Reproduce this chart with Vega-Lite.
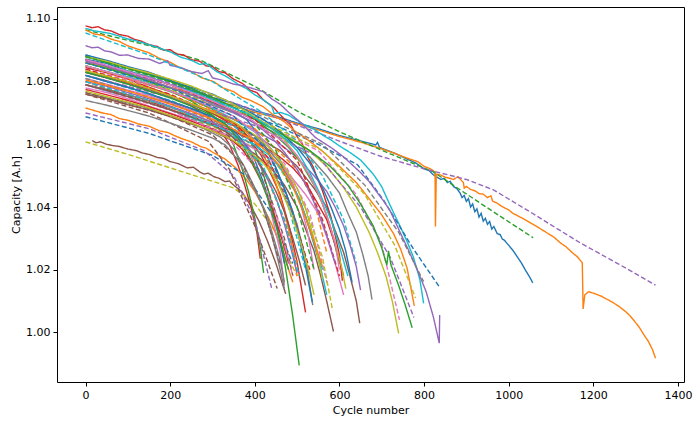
{
  "$schema": "https://vega.github.io/schema/vega-lite/v6.json",
  "width": 627,
  "height": 375,
  "autosize": "none",
  "padding": {"left": 57, "top": 7, "right": 16, "bottom": 43},
  "background": "white",
  "data": {
    "values": [
      {"run":"r00","type":"measured","cycle":0,"capacity":1.0872},{"run":"r00","type":"measured","cycle":50,"capacity":1.0858},{"run":"r00","type":"measured","cycle":100,"capacity":1.0834},{"run":"r00","type":"measured","cycle":150,"capacity":1.0815},{"run":"r00","type":"measured","cycle":200,"capacity":1.0791},{"run":"r00","type":"measured","cycle":250,"capacity":1.0772},{"run":"r00","type":"measured","cycle":300,"capacity":1.0749},{"run":"r00","type":"measured","cycle":350,"capacity":1.0731},{"run":"r00","type":"measured","cycle":400,"capacity":1.0707},{"run":"r00","type":"measured","cycle":450,"capacity":1.069},{"run":"r00","type":"measured","cycle":500,"capacity":1.0668},{"run":"r00","type":"measured","cycle":550,"capacity":1.065},{"run":"r00","type":"measured","cycle":600,"capacity":1.0628},{"run":"r00","type":"measured","cycle":650,"capacity":1.0611},{"run":"r00","type":"measured","cycle":686,"capacity":1.0598},{"run":"r00","type":"measured","cycle":690,"capacity":1.0606},{"run":"r00","type":"measured","cycle":695,"capacity":1.059},{"run":"r00","type":"measured","cycle":730,"capacity":1.0572},{"run":"r00","type":"measured","cycle":760,"capacity":1.0553},{"run":"r00","type":"measured","cycle":780,"capacity":1.0541},{"run":"r00","type":"measured","cycle":800,"capacity":1.0522},{"run":"r00","type":"measured","cycle":812,"capacity":1.0516},{"run":"r00","type":"measured","cycle":822,"capacity":1.0503},{"run":"r00","type":"measured","cycle":830,"capacity":1.0496},{"run":"r00","type":"measured","cycle":840,"capacity":1.0488},{"run":"r00","type":"measured","cycle":848,"capacity":1.0492},{"run":"r00","type":"measured","cycle":855,"capacity":1.0478},{"run":"r00","type":"measured","cycle":862,"capacity":1.0482},{"run":"r00","type":"measured","cycle":870,"capacity":1.0465},{"run":"r00","type":"measured","cycle":878,"capacity":1.0458},{"run":"r00","type":"measured","cycle":885,"capacity":1.0445},{"run":"r00","type":"measured","cycle":890,"capacity":1.043},{"run":"r00","type":"measured","cycle":895,"capacity":1.0437},{"run":"r00","type":"measured","cycle":900,"capacity":1.0418},{"run":"r00","type":"measured","cycle":905,"capacity":1.0427},{"run":"r00","type":"measured","cycle":910,"capacity":1.04},{"run":"r00","type":"measured","cycle":915,"capacity":1.041},{"run":"r00","type":"measured","cycle":920,"capacity":1.0385},{"run":"r00","type":"measured","cycle":925,"capacity":1.0394},{"run":"r00","type":"measured","cycle":930,"capacity":1.0368},{"run":"r00","type":"measured","cycle":935,"capacity":1.038},{"run":"r00","type":"measured","cycle":940,"capacity":1.0355},{"run":"r00","type":"measured","cycle":945,"capacity":1.0364},{"run":"r00","type":"measured","cycle":950,"capacity":1.0345},{"run":"r00","type":"measured","cycle":955,"capacity":1.0354},{"run":"r00","type":"measured","cycle":960,"capacity":1.033},{"run":"r00","type":"measured","cycle":965,"capacity":1.0338},{"run":"r00","type":"measured","cycle":973,"capacity":1.0315},{"run":"r00","type":"measured","cycle":980,"capacity":1.0312},{"run":"r00","type":"measured","cycle":985,"capacity":1.0298},{"run":"r00","type":"measured","cycle":990,"capacity":1.0294},{"run":"r00","type":"measured","cycle":1000,"capacity":1.0278},{"run":"r00","type":"measured","cycle":1010,"capacity":1.0262},{"run":"r00","type":"measured","cycle":1020,"capacity":1.0242},{"run":"r00","type":"measured","cycle":1030,"capacity":1.0222},{"run":"r00","type":"measured","cycle":1040,"capacity":1.0198},{"run":"r00","type":"measured","cycle":1050,"capacity":1.0176},{"run":"r00","type":"measured","cycle":1057,"capacity":1.0158},
      {"run":"r01","type":"measured","cycle":0,"capacity":1.0862},{"run":"r01","type":"measured","cycle":50,"capacity":1.0845},{"run":"r01","type":"measured","cycle":100,"capacity":1.0823},{"run":"r01","type":"measured","cycle":150,"capacity":1.0805},{"run":"r01","type":"measured","cycle":200,"capacity":1.0782},{"run":"r01","type":"measured","cycle":250,"capacity":1.0764},{"run":"r01","type":"measured","cycle":300,"capacity":1.0742},{"run":"r01","type":"measured","cycle":350,"capacity":1.0724},{"run":"r01","type":"measured","cycle":400,"capacity":1.0702},{"run":"r01","type":"measured","cycle":450,"capacity":1.0685},{"run":"r01","type":"measured","cycle":500,"capacity":1.0665},{"run":"r01","type":"measured","cycle":550,"capacity":1.0646},{"run":"r01","type":"measured","cycle":600,"capacity":1.0625},{"run":"r01","type":"measured","cycle":650,"capacity":1.0607},{"run":"r01","type":"measured","cycle":690,"capacity":1.059},{"run":"r01","type":"measured","cycle":725,"capacity":1.0574},{"run":"r01","type":"measured","cycle":760,"capacity":1.0556},{"run":"r01","type":"measured","cycle":785,"capacity":1.0545},{"run":"r01","type":"measured","cycle":800,"capacity":1.053},{"run":"r01","type":"measured","cycle":815,"capacity":1.0522},{"run":"r01","type":"measured","cycle":826,"capacity":1.0512},{"run":"r01","type":"measured","cycle":827,"capacity":1.0338},{"run":"r01","type":"measured","cycle":829,"capacity":1.0505},{"run":"r01","type":"measured","cycle":840,"capacity":1.0502},{"run":"r01","type":"measured","cycle":850,"capacity":1.0495},{"run":"r01","type":"measured","cycle":860,"capacity":1.0492},{"run":"r01","type":"measured","cycle":870,"capacity":1.0488},{"run":"r01","type":"measured","cycle":880,"capacity":1.0497},{"run":"r01","type":"measured","cycle":885,"capacity":1.049},{"run":"r01","type":"measured","cycle":893,"capacity":1.0478},{"run":"r01","type":"measured","cycle":895,"capacity":1.046},{"run":"r01","type":"measured","cycle":900,"capacity":1.0466},{"run":"r01","type":"measured","cycle":910,"capacity":1.0456},{"run":"r01","type":"measured","cycle":920,"capacity":1.0452},{"run":"r01","type":"measured","cycle":930,"capacity":1.0443},{"run":"r01","type":"measured","cycle":940,"capacity":1.0441},{"run":"r01","type":"measured","cycle":950,"capacity":1.043},{"run":"r01","type":"measured","cycle":958,"capacity":1.0436},{"run":"r01","type":"measured","cycle":962,"capacity":1.0419},{"run":"r01","type":"measured","cycle":973,"capacity":1.0412},{"run":"r01","type":"measured","cycle":985,"capacity":1.0401},{"run":"r01","type":"measured","cycle":1000,"capacity":1.0391},{"run":"r01","type":"measured","cycle":1010,"capacity":1.038},{"run":"r01","type":"measured","cycle":1030,"capacity":1.0366},{"run":"r01","type":"measured","cycle":1052,"capacity":1.0349},{"run":"r01","type":"measured","cycle":1070,"capacity":1.0335},{"run":"r01","type":"measured","cycle":1090,"capacity":1.0318},{"run":"r01","type":"measured","cycle":1105,"capacity":1.0306},{"run":"r01","type":"measured","cycle":1123,"capacity":1.0285},{"run":"r01","type":"measured","cycle":1135,"capacity":1.0274},{"run":"r01","type":"measured","cycle":1150,"capacity":1.0255},{"run":"r01","type":"measured","cycle":1162,"capacity":1.0242},{"run":"r01","type":"measured","cycle":1174,"capacity":1.0222},{"run":"r01","type":"measured","cycle":1176,"capacity":1.0075},{"run":"r01","type":"measured","cycle":1180,"capacity":1.012},{"run":"r01","type":"measured","cycle":1189,"capacity":1.013},{"run":"r01","type":"measured","cycle":1205,"capacity":1.0123},{"run":"r01","type":"measured","cycle":1220,"capacity":1.0115},{"run":"r01","type":"measured","cycle":1235,"capacity":1.0104},{"run":"r01","type":"measured","cycle":1248,"capacity":1.0094},{"run":"r01","type":"measured","cycle":1262,"capacity":1.0082},{"run":"r01","type":"measured","cycle":1275,"capacity":1.0068},{"run":"r01","type":"measured","cycle":1285,"capacity":1.0056},{"run":"r01","type":"measured","cycle":1295,"capacity":1.004},{"run":"r01","type":"measured","cycle":1308,"capacity":1.0018},{"run":"r01","type":"measured","cycle":1320,"capacity":0.9992},{"run":"r01","type":"measured","cycle":1330,"capacity":0.9972},{"run":"r01","type":"measured","cycle":1340,"capacity":0.9945},{"run":"r01","type":"measured","cycle":1347,"capacity":0.9918},
      {"run":"r02","type":"predicted","cycle":0,"capacity":1.0965},{"run":"r02","type":"predicted","cycle":150,"capacity":1.0915},{"run":"r02","type":"predicted","cycle":272,"capacity":1.0868},{"run":"r02","type":"predicted","cycle":400,"capacity":1.0785},{"run":"r02","type":"predicted","cycle":508,"capacity":1.07},{"run":"r02","type":"predicted","cycle":600,"capacity":1.064},{"run":"r02","type":"predicted","cycle":697,"capacity":1.0583},{"run":"r02","type":"predicted","cycle":822,"capacity":1.0512},{"run":"r02","type":"predicted","cycle":893,"capacity":1.0448},{"run":"r02","type":"predicted","cycle":975,"capacity":1.0375},{"run":"r02","type":"predicted","cycle":1058,"capacity":1.0302},
      {"run":"r03","type":"measured","cycle":0,"capacity":1.0978},{"run":"r03","type":"measured","cycle":15,"capacity":1.0972},{"run":"r03","type":"measured","cycle":30,"capacity":1.0975},{"run":"r03","type":"measured","cycle":45,"capacity":1.0965},{"run":"r03","type":"measured","cycle":60,"capacity":1.0962},{"run":"r03","type":"measured","cycle":80,"capacity":1.095},{"run":"r03","type":"measured","cycle":100,"capacity":1.0945},{"run":"r03","type":"measured","cycle":115,"capacity":1.0935},{"run":"r03","type":"measured","cycle":130,"capacity":1.093},{"run":"r03","type":"measured","cycle":150,"capacity":1.0918},{"run":"r03","type":"measured","cycle":170,"capacity":1.0912},{"run":"r03","type":"measured","cycle":185,"capacity":1.09},{"run":"r03","type":"measured","cycle":200,"capacity":1.0902},{"run":"r03","type":"measured","cycle":215,"capacity":1.0888},{"run":"r03","type":"measured","cycle":232,"capacity":1.0885},{"run":"r03","type":"measured","cycle":250,"capacity":1.087},{"run":"r03","type":"measured","cycle":270,"capacity":1.0865},{"run":"r03","type":"measured","cycle":285,"capacity":1.085},{"run":"r03","type":"measured","cycle":300,"capacity":1.0848},{"run":"r03","type":"measured","cycle":315,"capacity":1.0832},{"run":"r03","type":"measured","cycle":330,"capacity":1.0828},{"run":"r03","type":"measured","cycle":350,"capacity":1.0808},{"run":"r03","type":"measured","cycle":370,"capacity":1.0795},{"run":"r03","type":"measured","cycle":390,"capacity":1.0772},{"run":"r03","type":"measured","cycle":405,"capacity":1.0765},{"run":"r03","type":"measured","cycle":420,"capacity":1.0742},{"run":"r03","type":"measured","cycle":444,"capacity":1.0718},{"run":"r03","type":"measured","cycle":470,"capacity":1.068},{"run":"r03","type":"measured","cycle":485,"capacity":1.0662},{"run":"r03","type":"measured","cycle":500,"capacity":1.0625},{"run":"r03","type":"measured","cycle":512,"capacity":1.0602},{"run":"r03","type":"measured","cycle":525,"capacity":1.056},{"run":"r03","type":"measured","cycle":538,"capacity":1.0528},{"run":"r03","type":"measured","cycle":550,"capacity":1.0485},{"run":"r03","type":"measured","cycle":560,"capacity":1.0452},{"run":"r03","type":"measured","cycle":570,"capacity":1.041},{"run":"r03","type":"measured","cycle":580,"capacity":1.0368},{"run":"r03","type":"measured","cycle":590,"capacity":1.031},{"run":"r03","type":"measured","cycle":600,"capacity":1.0248},{"run":"r03","type":"measured","cycle":607,"capacity":1.0165},
      {"run":"r04","type":"predicted","cycle":0,"capacity":1.087},{"run":"r04","type":"predicted","cycle":150,"capacity":1.0815},{"run":"r04","type":"predicted","cycle":300,"capacity":1.0755},{"run":"r04","type":"predicted","cycle":420,"capacity":1.07},{"run":"r04","type":"predicted","cycle":543,"capacity":1.064},{"run":"r04","type":"predicted","cycle":620,"capacity":1.06},{"run":"r04","type":"predicted","cycle":697,"capacity":1.0562},{"run":"r04","type":"predicted","cycle":800,"capacity":1.0522},{"run":"r04","type":"predicted","cycle":900,"capacity":1.0488},{"run":"r04","type":"predicted","cycle":964,"capacity":1.0455},{"run":"r04","type":"predicted","cycle":1050,"capacity":1.0385},{"run":"r04","type":"predicted","cycle":1170,"capacity":1.0285},{"run":"r04","type":"predicted","cycle":1260,"capacity":1.0218},{"run":"r04","type":"predicted","cycle":1347,"capacity":1.0151},
      {"run":"r05","type":"measured","cycle":16,"capacity":1.0612},{"run":"r05","type":"measured","cycle":25,"capacity":1.0605},{"run":"r05","type":"measured","cycle":35,"capacity":1.0608},{"run":"r05","type":"measured","cycle":50,"capacity":1.06},{"run":"r05","type":"measured","cycle":65,"capacity":1.0596},{"run":"r05","type":"measured","cycle":80,"capacity":1.0593},{"run":"r05","type":"measured","cycle":100,"capacity":1.0585},{"run":"r05","type":"measured","cycle":120,"capacity":1.058},{"run":"r05","type":"measured","cycle":135,"capacity":1.0572},{"run":"r05","type":"measured","cycle":150,"capacity":1.0568},{"run":"r05","type":"measured","cycle":170,"capacity":1.0558},{"run":"r05","type":"measured","cycle":185,"capacity":1.0555},{"run":"r05","type":"measured","cycle":200,"capacity":1.0545},{"run":"r05","type":"measured","cycle":220,"capacity":1.0538},{"run":"r05","type":"measured","cycle":240,"capacity":1.0525},{"run":"r05","type":"measured","cycle":255,"capacity":1.0527},{"run":"r05","type":"measured","cycle":270,"capacity":1.0512},{"run":"r05","type":"measured","cycle":280,"capacity":1.0505},{"run":"r05","type":"measured","cycle":290,"capacity":1.0508},{"run":"r05","type":"measured","cycle":303,"capacity":1.0497},{"run":"r05","type":"measured","cycle":315,"capacity":1.0492},{"run":"r05","type":"measured","cycle":330,"capacity":1.0481},{"run":"r05","type":"measured","cycle":340,"capacity":1.0483},{"run":"r05","type":"measured","cycle":350,"capacity":1.047},{"run":"r05","type":"measured","cycle":370,"capacity":1.0448},{"run":"r05","type":"measured","cycle":390,"capacity":1.0405},{"run":"r05","type":"measured","cycle":410,"capacity":1.0355},{"run":"r05","type":"measured","cycle":430,"capacity":1.0292},{"run":"r05","type":"measured","cycle":450,"capacity":1.022},{"run":"r05","type":"measured","cycle":473,"capacity":1.0123},
      {"run":"r06","type":"predicted","cycle":0,"capacity":1.082},{"run":"r06","type":"predicted","cycle":200,"capacity":1.074},{"run":"r06","type":"predicted","cycle":380,"capacity":1.064},{"run":"r06","type":"predicted","cycle":470,"capacity":1.054},{"run":"r06","type":"predicted","cycle":530,"capacity":1.038},{"run":"r06","type":"predicted","cycle":571,"capacity":1.0157},
      {"run":"r07","type":"measured","cycle":0,"capacity":1.083},{"run":"r07","type":"measured","cycle":50,"capacity":1.0815},{"run":"r07","type":"measured","cycle":100,"capacity":1.0795},{"run":"r07","type":"measured","cycle":150,"capacity":1.0777},{"run":"r07","type":"measured","cycle":200,"capacity":1.0755},{"run":"r07","type":"measured","cycle":250,"capacity":1.0728},{"run":"r07","type":"measured","cycle":300,"capacity":1.0697},{"run":"r07","type":"measured","cycle":350,"capacity":1.0668},{"run":"r07","type":"measured","cycle":400,"capacity":1.0628},{"run":"r07","type":"measured","cycle":430,"capacity":1.0585},{"run":"r07","type":"measured","cycle":450,"capacity":1.0525},{"run":"r07","type":"measured","cycle":475,"capacity":1.044},{"run":"r07","type":"measured","cycle":500,"capacity":1.0345},{"run":"r07","type":"measured","cycle":520,"capacity":1.0235},{"run":"r07","type":"measured","cycle":537,"capacity":1.0087},
      {"run":"r08","type":"predicted","cycle":0,"capacity":1.0608},{"run":"r08","type":"predicted","cycle":100,"capacity":1.0568},{"run":"r08","type":"predicted","cycle":200,"capacity":1.0525},{"run":"r08","type":"predicted","cycle":350,"capacity":1.0461},{"run":"r08","type":"predicted","cycle":400,"capacity":1.041},{"run":"r08","type":"predicted","cycle":450,"capacity":1.032},{"run":"r08","type":"predicted","cycle":500,"capacity":1.018},
      {"run":"r09","type":"measured","cycle":0,"capacity":1.097},{"run":"r09","type":"measured","cycle":20,"capacity":1.0962},{"run":"r09","type":"measured","cycle":40,"capacity":1.0958},{"run":"r09","type":"measured","cycle":60,"capacity":1.0953},{"run":"r09","type":"measured","cycle":80,"capacity":1.0945},{"run":"r09","type":"measured","cycle":100,"capacity":1.0936},{"run":"r09","type":"measured","cycle":120,"capacity":1.093},{"run":"r09","type":"measured","cycle":150,"capacity":1.0918},{"run":"r09","type":"measured","cycle":175,"capacity":1.0907},{"run":"r09","type":"measured","cycle":200,"capacity":1.0895},{"run":"r09","type":"measured","cycle":225,"capacity":1.0878},{"run":"r09","type":"measured","cycle":250,"capacity":1.0868},{"run":"r09","type":"measured","cycle":270,"capacity":1.0855},{"run":"r09","type":"measured","cycle":285,"capacity":1.0858},{"run":"r09","type":"measured","cycle":296,"capacity":1.0846},{"run":"r09","type":"measured","cycle":310,"capacity":1.0832},{"run":"r09","type":"measured","cycle":330,"capacity":1.0818},{"run":"r09","type":"measured","cycle":345,"capacity":1.0806},{"run":"r09","type":"measured","cycle":360,"capacity":1.0792},{"run":"r09","type":"measured","cycle":380,"capacity":1.0778},{"run":"r09","type":"measured","cycle":400,"capacity":1.0758},{"run":"r09","type":"measured","cycle":420,"capacity":1.0742},{"run":"r09","type":"measured","cycle":440,"capacity":1.0722},{"run":"r09","type":"measured","cycle":446,"capacity":1.0698},{"run":"r09","type":"measured","cycle":460,"capacity":1.0702},{"run":"r09","type":"measured","cycle":480,"capacity":1.0693},{"run":"r09","type":"measured","cycle":500,"capacity":1.0676},{"run":"r09","type":"measured","cycle":520,"capacity":1.066},{"run":"r09","type":"measured","cycle":540,"capacity":1.0648},{"run":"r09","type":"measured","cycle":560,"capacity":1.063},{"run":"r09","type":"measured","cycle":580,"capacity":1.0614},{"run":"r09","type":"measured","cycle":600,"capacity":1.0595},{"run":"r09","type":"measured","cycle":625,"capacity":1.0574},{"run":"r09","type":"measured","cycle":650,"capacity":1.055},{"run":"r09","type":"measured","cycle":665,"capacity":1.0528},{"run":"r09","type":"measured","cycle":680,"capacity":1.0505},{"run":"r09","type":"measured","cycle":700,"capacity":1.0465},{"run":"r09","type":"measured","cycle":720,"capacity":1.0405},{"run":"r09","type":"measured","cycle":744,"capacity":1.0337},{"run":"r09","type":"measured","cycle":760,"capacity":1.029},{"run":"r09","type":"measured","cycle":775,"capacity":1.024},{"run":"r09","type":"measured","cycle":790,"capacity":1.017},{"run":"r09","type":"measured","cycle":799,"capacity":1.0093},
      {"run":"r10","type":"predicted","cycle":0,"capacity":1.0885},{"run":"r10","type":"predicted","cycle":200,"capacity":1.08},{"run":"r10","type":"predicted","cycle":400,"capacity":1.069},{"run":"r10","type":"predicted","cycle":550,"capacity":1.06},{"run":"r10","type":"predicted","cycle":643,"capacity":1.0535},{"run":"r10","type":"predicted","cycle":704,"capacity":1.0423},{"run":"r10","type":"predicted","cycle":776,"capacity":1.0264},{"run":"r10","type":"predicted","cycle":838,"capacity":1.0142},
      {"run":"r11","type":"measured","cycle":0,"capacity":1.0965},{"run":"r11","type":"measured","cycle":20,"capacity":1.0952},{"run":"r11","type":"measured","cycle":40,"capacity":1.0948},{"run":"r11","type":"measured","cycle":60,"capacity":1.0936},{"run":"r11","type":"measured","cycle":80,"capacity":1.0928},{"run":"r11","type":"measured","cycle":100,"capacity":1.0914},{"run":"r11","type":"measured","cycle":120,"capacity":1.0905},{"run":"r11","type":"measured","cycle":150,"capacity":1.0892},{"run":"r11","type":"measured","cycle":175,"capacity":1.0874},{"run":"r11","type":"measured","cycle":200,"capacity":1.0862},{"run":"r11","type":"measured","cycle":225,"capacity":1.0843},{"run":"r11","type":"measured","cycle":250,"capacity":1.0832},{"run":"r11","type":"measured","cycle":275,"capacity":1.0812},{"run":"r11","type":"measured","cycle":303,"capacity":1.08},{"run":"r11","type":"measured","cycle":325,"capacity":1.078},{"run":"r11","type":"measured","cycle":350,"capacity":1.0768},{"run":"r11","type":"measured","cycle":370,"capacity":1.075},{"run":"r11","type":"measured","cycle":390,"capacity":1.074},{"run":"r11","type":"measured","cycle":420,"capacity":1.072},{"run":"r11","type":"measured","cycle":445,"capacity":1.0693},{"run":"r11","type":"measured","cycle":470,"capacity":1.0672},{"run":"r11","type":"measured","cycle":495,"capacity":1.0642},{"run":"r11","type":"measured","cycle":520,"capacity":1.062},{"run":"r11","type":"measured","cycle":560,"capacity":1.0578},{"run":"r11","type":"measured","cycle":600,"capacity":1.053},{"run":"r11","type":"measured","cycle":640,"capacity":1.0478},{"run":"r11","type":"measured","cycle":666,"capacity":1.0434},{"run":"r11","type":"measured","cycle":700,"capacity":1.0375},{"run":"r11","type":"measured","cycle":728,"capacity":1.0315},{"run":"r11","type":"measured","cycle":745,"capacity":1.0265},{"run":"r11","type":"measured","cycle":760,"capacity":1.0205},{"run":"r11","type":"measured","cycle":777,"capacity":1.0085},
      {"run":"r12","type":"measured","cycle":0,"capacity":1.085},{"run":"r12","type":"measured","cycle":50,"capacity":1.0832},{"run":"r12","type":"measured","cycle":100,"capacity":1.0812},{"run":"r12","type":"measured","cycle":150,"capacity":1.079},{"run":"r12","type":"measured","cycle":200,"capacity":1.0768},{"run":"r12","type":"measured","cycle":250,"capacity":1.0742},{"run":"r12","type":"measured","cycle":300,"capacity":1.0712},{"run":"r12","type":"measured","cycle":340,"capacity":1.0678},{"run":"r12","type":"measured","cycle":380,"capacity":1.0632},{"run":"r12","type":"measured","cycle":400,"capacity":1.0585},{"run":"r12","type":"measured","cycle":420,"capacity":1.0505},{"run":"r12","type":"measured","cycle":435,"capacity":1.044},{"run":"r12","type":"measured","cycle":450,"capacity":1.0355},{"run":"r12","type":"measured","cycle":465,"capacity":1.0265},{"run":"r12","type":"measured","cycle":475,"capacity":1.0185},{"run":"r12","type":"measured","cycle":490,"capacity":1.005},{"run":"r12","type":"measured","cycle":505,"capacity":0.9895},
      {"run":"r13","type":"measured","cycle":0,"capacity":1.0845},{"run":"r13","type":"measured","cycle":50,"capacity":1.0828},{"run":"r13","type":"measured","cycle":100,"capacity":1.0808},{"run":"r13","type":"measured","cycle":150,"capacity":1.0782},{"run":"r13","type":"measured","cycle":200,"capacity":1.0757},{"run":"r13","type":"measured","cycle":250,"capacity":1.0722},{"run":"r13","type":"measured","cycle":290,"capacity":1.0688},{"run":"r13","type":"measured","cycle":320,"capacity":1.0642},{"run":"r13","type":"measured","cycle":340,"capacity":1.06},{"run":"r13","type":"measured","cycle":360,"capacity":1.0535},{"run":"r13","type":"measured","cycle":375,"capacity":1.0475},{"run":"r13","type":"measured","cycle":390,"capacity":1.0405},{"run":"r13","type":"measured","cycle":405,"capacity":1.032},{"run":"r13","type":"measured","cycle":413,"capacity":1.0235},
      {"run":"r14","type":"measured","cycle":0,"capacity":1.0915},{"run":"r14","type":"measured","cycle":15,"capacity":1.0908},{"run":"r14","type":"measured","cycle":30,"capacity":1.091},{"run":"r14","type":"measured","cycle":45,"capacity":1.0898},{"run":"r14","type":"measured","cycle":60,"capacity":1.0895},{"run":"r14","type":"measured","cycle":80,"capacity":1.0884},{"run":"r14","type":"measured","cycle":100,"capacity":1.0885},{"run":"r14","type":"measured","cycle":125,"capacity":1.0874},{"run":"r14","type":"measured","cycle":150,"capacity":1.0872},{"run":"r14","type":"measured","cycle":175,"capacity":1.0858},{"run":"r14","type":"measured","cycle":194,"capacity":1.0866},{"run":"r14","type":"measured","cycle":200,"capacity":1.0852},{"run":"r14","type":"measured","cycle":225,"capacity":1.0845},{"run":"r14","type":"measured","cycle":250,"capacity":1.0832},{"run":"r14","type":"measured","cycle":275,"capacity":1.0826},{"run":"r14","type":"measured","cycle":290,"capacity":1.0835},{"run":"r14","type":"measured","cycle":300,"capacity":1.0812},{"run":"r14","type":"measured","cycle":325,"capacity":1.0804},{"run":"r14","type":"measured","cycle":350,"capacity":1.0792},{"run":"r14","type":"measured","cycle":375,"capacity":1.0786},{"run":"r14","type":"measured","cycle":400,"capacity":1.0776},{"run":"r14","type":"measured","cycle":420,"capacity":1.0768},{"run":"r14","type":"measured","cycle":440,"capacity":1.0745},{"run":"r14","type":"measured","cycle":460,"capacity":1.0728},{"run":"r14","type":"measured","cycle":480,"capacity":1.0702},{"run":"r14","type":"measured","cycle":510,"capacity":1.0668},{"run":"r14","type":"measured","cycle":543,"capacity":1.0622},{"run":"r14","type":"measured","cycle":580,"capacity":1.059},{"run":"r14","type":"measured","cycle":610,"capacity":1.056},{"run":"r14","type":"measured","cycle":650,"capacity":1.051},{"run":"r14","type":"measured","cycle":670,"capacity":1.0482},{"run":"r14","type":"measured","cycle":690,"capacity":1.0445},{"run":"r14","type":"measured","cycle":705,"capacity":1.0418},{"run":"r14","type":"measured","cycle":720,"capacity":1.0388},{"run":"r14","type":"measured","cycle":744,"capacity":1.0318},{"run":"r14","type":"measured","cycle":765,"capacity":1.0258},{"run":"r14","type":"measured","cycle":784,"capacity":1.02},{"run":"r14","type":"measured","cycle":805,"capacity":1.013},{"run":"r14","type":"measured","cycle":822,"capacity":1.005},{"run":"r14","type":"measured","cycle":836,"capacity":0.9966},{"run":"r14","type":"measured","cycle":837,"capacity":1.0056},
      {"run":"r15","type":"measured","cycle":0,"capacity":1.076},{"run":"r15","type":"measured","cycle":50,"capacity":1.0745},{"run":"r15","type":"measured","cycle":100,"capacity":1.0726},{"run":"r15","type":"measured","cycle":150,"capacity":1.071},{"run":"r15","type":"measured","cycle":200,"capacity":1.0688},{"run":"r15","type":"measured","cycle":250,"capacity":1.0665},{"run":"r15","type":"measured","cycle":300,"capacity":1.0642},{"run":"r15","type":"measured","cycle":350,"capacity":1.061},{"run":"r15","type":"measured","cycle":400,"capacity":1.057},{"run":"r15","type":"measured","cycle":440,"capacity":1.0522},{"run":"r15","type":"measured","cycle":470,"capacity":1.047},{"run":"r15","type":"measured","cycle":500,"capacity":1.04},{"run":"r15","type":"measured","cycle":520,"capacity":1.033},{"run":"r15","type":"measured","cycle":540,"capacity":1.026},{"run":"r15","type":"measured","cycle":555,"capacity":1.0185},{"run":"r15","type":"measured","cycle":570,"capacity":1.01},{"run":"r15","type":"measured","cycle":586,"capacity":1.0003},
      {"run":"r16","type":"predicted","cycle":0,"capacity":1.084},{"run":"r16","type":"predicted","cycle":200,"capacity":1.077},{"run":"r16","type":"predicted","cycle":400,"capacity":1.068},{"run":"r16","type":"predicted","cycle":550,"capacity":1.058},{"run":"r16","type":"predicted","cycle":640,"capacity":1.044},{"run":"r16","type":"predicted","cycle":700,"capacity":1.028},{"run":"r16","type":"predicted","cycle":742,"capacity":1.004},
      {"run":"r17","type":"measured","cycle":0,"capacity":1.085},{"run":"r17","type":"measured","cycle":50,"capacity":1.0832},{"run":"r17","type":"measured","cycle":100,"capacity":1.0812},{"run":"r17","type":"measured","cycle":150,"capacity":1.0795},{"run":"r17","type":"measured","cycle":200,"capacity":1.077},{"run":"r17","type":"measured","cycle":250,"capacity":1.0748},{"run":"r17","type":"measured","cycle":300,"capacity":1.0725},{"run":"r17","type":"measured","cycle":350,"capacity":1.07},{"run":"r17","type":"measured","cycle":400,"capacity":1.0668},{"run":"r17","type":"measured","cycle":440,"capacity":1.0642},{"run":"r17","type":"measured","cycle":480,"capacity":1.061},{"run":"r17","type":"measured","cycle":530,"capacity":1.056},{"run":"r17","type":"measured","cycle":570,"capacity":1.05},{"run":"r17","type":"measured","cycle":600,"capacity":1.0445},{"run":"r17","type":"measured","cycle":620,"capacity":1.038},{"run":"r17","type":"measured","cycle":640,"capacity":1.032},{"run":"r17","type":"measured","cycle":655,"capacity":1.025},{"run":"r17","type":"measured","cycle":668,"capacity":1.018},{"run":"r17","type":"measured","cycle":677,"capacity":1.0105},
      {"run":"r18","type":"predicted","cycle":0,"capacity":1.079},{"run":"r18","type":"predicted","cycle":200,"capacity":1.071},{"run":"r18","type":"predicted","cycle":350,"capacity":1.063},{"run":"r18","type":"predicted","cycle":450,"capacity":1.054},{"run":"r18","type":"predicted","cycle":520,"capacity":1.04},{"run":"r18","type":"predicted","cycle":560,"capacity":1.024},{"run":"r18","type":"predicted","cycle":584,"capacity":1.007},
      {"run":"r19","type":"predicted","cycle":0,"capacity":1.0955},{"run":"r19","type":"predicted","cycle":150,"capacity":1.0885},{"run":"r19","type":"predicted","cycle":300,"capacity":1.08},{"run":"r19","type":"predicted","cycle":420,"capacity":1.07},{"run":"r19","type":"predicted","cycle":500,"capacity":1.061},{"run":"r19","type":"predicted","cycle":560,"capacity":1.05},{"run":"r19","type":"predicted","cycle":610,"capacity":1.036},{"run":"r19","type":"predicted","cycle":640,"capacity":1.022},
      {"run":"r20","type":"measured","cycle":0,"capacity":1.0885},{"run":"r20","type":"measured","cycle":50,"capacity":1.0868},{"run":"r20","type":"measured","cycle":100,"capacity":1.0848},{"run":"r20","type":"measured","cycle":150,"capacity":1.083},{"run":"r20","type":"measured","cycle":200,"capacity":1.0805},{"run":"r20","type":"measured","cycle":250,"capacity":1.0778},{"run":"r20","type":"measured","cycle":300,"capacity":1.0745},{"run":"r20","type":"measured","cycle":340,"capacity":1.0712},{"run":"r20","type":"measured","cycle":380,"capacity":1.068},{"run":"r20","type":"measured","cycle":410,"capacity":1.063},{"run":"r20","type":"measured","cycle":430,"capacity":1.058},{"run":"r20","type":"measured","cycle":450,"capacity":1.0525},{"run":"r20","type":"measured","cycle":470,"capacity":1.046},{"run":"r20","type":"measured","cycle":490,"capacity":1.0385},{"run":"r20","type":"measured","cycle":505,"capacity":1.03},{"run":"r20","type":"measured","cycle":520,"capacity":1.021},{"run":"r20","type":"measured","cycle":536,"capacity":1.0097},
      {"run":"r21","type":"measured","cycle":0,"capacity":1.0716},{"run":"r21","type":"measured","cycle":20,"capacity":1.0708},{"run":"r21","type":"measured","cycle":40,"capacity":1.07},{"run":"r21","type":"measured","cycle":60,"capacity":1.0695},{"run":"r21","type":"measured","cycle":80,"capacity":1.0682},{"run":"r21","type":"measured","cycle":100,"capacity":1.0677},{"run":"r21","type":"measured","cycle":125,"capacity":1.0665},{"run":"r21","type":"measured","cycle":150,"capacity":1.0658},{"run":"r21","type":"measured","cycle":175,"capacity":1.0643},{"run":"r21","type":"measured","cycle":194,"capacity":1.0638},{"run":"r21","type":"measured","cycle":210,"capacity":1.0628},{"run":"r21","type":"measured","cycle":230,"capacity":1.0617},{"run":"r21","type":"measured","cycle":250,"capacity":1.0608},{"run":"r21","type":"measured","cycle":272,"capacity":1.0593},{"run":"r21","type":"measured","cycle":285,"capacity":1.0588},{"run":"r21","type":"measured","cycle":300,"capacity":1.0575},{"run":"r21","type":"measured","cycle":330,"capacity":1.0553},{"run":"r21","type":"measured","cycle":355,"capacity":1.0525},{"run":"r21","type":"measured","cycle":380,"capacity":1.0488},{"run":"r21","type":"measured","cycle":400,"capacity":1.045},{"run":"r21","type":"measured","cycle":420,"capacity":1.04},{"run":"r21","type":"measured","cycle":440,"capacity":1.0345},{"run":"r21","type":"measured","cycle":460,"capacity":1.028},{"run":"r21","type":"measured","cycle":475,"capacity":1.022},{"run":"r21","type":"measured","cycle":490,"capacity":1.016},
      {"run":"r22","type":"measured","cycle":0,"capacity":1.087},{"run":"r22","type":"measured","cycle":50,"capacity":1.0848},{"run":"r22","type":"measured","cycle":100,"capacity":1.0825},{"run":"r22","type":"measured","cycle":150,"capacity":1.08},{"run":"r22","type":"measured","cycle":200,"capacity":1.0772},{"run":"r22","type":"measured","cycle":250,"capacity":1.0738},{"run":"r22","type":"measured","cycle":280,"capacity":1.0712},{"run":"r22","type":"measured","cycle":310,"capacity":1.068},{"run":"r22","type":"measured","cycle":330,"capacity":1.0645},{"run":"r22","type":"measured","cycle":350,"capacity":1.0598},{"run":"r22","type":"measured","cycle":370,"capacity":1.0522},{"run":"r22","type":"measured","cycle":385,"capacity":1.045},{"run":"r22","type":"measured","cycle":400,"capacity":1.0365},{"run":"r22","type":"measured","cycle":412,"capacity":1.028},{"run":"r22","type":"measured","cycle":421,"capacity":1.019},
      {"run":"r23","type":"measured","cycle":0,"capacity":1.083},{"run":"r23","type":"measured","cycle":50,"capacity":1.0812},{"run":"r23","type":"measured","cycle":100,"capacity":1.0795},{"run":"r23","type":"measured","cycle":150,"capacity":1.0774},{"run":"r23","type":"measured","cycle":200,"capacity":1.0752},{"run":"r23","type":"measured","cycle":250,"capacity":1.0728},{"run":"r23","type":"measured","cycle":300,"capacity":1.07},{"run":"r23","type":"measured","cycle":350,"capacity":1.066},{"run":"r23","type":"measured","cycle":390,"capacity":1.0612},{"run":"r23","type":"measured","cycle":415,"capacity":1.0565},{"run":"r23","type":"measured","cycle":440,"capacity":1.05},{"run":"r23","type":"measured","cycle":460,"capacity":1.044},{"run":"r23","type":"measured","cycle":480,"capacity":1.0345},{"run":"r23","type":"measured","cycle":500,"capacity":1.0225},{"run":"r23","type":"measured","cycle":520,"capacity":1.0064},
      {"run":"r24","type":"measured","cycle":0,"capacity":1.083},{"run":"r24","type":"measured","cycle":50,"capacity":1.0812},{"run":"r24","type":"measured","cycle":100,"capacity":1.0792},{"run":"r24","type":"measured","cycle":150,"capacity":1.0772},{"run":"r24","type":"measured","cycle":200,"capacity":1.075},{"run":"r24","type":"measured","cycle":250,"capacity":1.0728},{"run":"r24","type":"measured","cycle":300,"capacity":1.0706},{"run":"r24","type":"measured","cycle":350,"capacity":1.068},{"run":"r24","type":"measured","cycle":400,"capacity":1.0645},{"run":"r24","type":"measured","cycle":460,"capacity":1.06},{"run":"r24","type":"measured","cycle":500,"capacity":1.0558},{"run":"r24","type":"measured","cycle":540,"capacity":1.05},{"run":"r24","type":"measured","cycle":570,"capacity":1.045},{"run":"r24","type":"measured","cycle":590,"capacity":1.04},{"run":"r24","type":"measured","cycle":610,"capacity":1.034},{"run":"r24","type":"measured","cycle":625,"capacity":1.028},{"run":"r24","type":"measured","cycle":640,"capacity":1.021},{"run":"r24","type":"measured","cycle":650,"capacity":1.0135},
      {"run":"r25","type":"measured","cycle":0,"capacity":1.082},{"run":"r25","type":"measured","cycle":50,"capacity":1.0802},{"run":"r25","type":"measured","cycle":100,"capacity":1.0782},{"run":"r25","type":"measured","cycle":150,"capacity":1.076},{"run":"r25","type":"measured","cycle":200,"capacity":1.0735},{"run":"r25","type":"measured","cycle":250,"capacity":1.0712},{"run":"r25","type":"measured","cycle":300,"capacity":1.0688},{"run":"r25","type":"measured","cycle":350,"capacity":1.066},{"run":"r25","type":"measured","cycle":400,"capacity":1.0628},{"run":"r25","type":"measured","cycle":460,"capacity":1.058},{"run":"r25","type":"measured","cycle":500,"capacity":1.053},{"run":"r25","type":"measured","cycle":540,"capacity":1.046},{"run":"r25","type":"measured","cycle":570,"capacity":1.04},{"run":"r25","type":"measured","cycle":590,"capacity":1.0325},{"run":"r25","type":"measured","cycle":610,"capacity":1.0255},{"run":"r25","type":"measured","cycle":625,"capacity":1.018},{"run":"r25","type":"measured","cycle":640,"capacity":1.01},{"run":"r25","type":"measured","cycle":648,"capacity":1.003},
      {"run":"r26","type":"measured","cycle":0,"capacity":1.081},{"run":"r26","type":"measured","cycle":50,"capacity":1.0792},{"run":"r26","type":"measured","cycle":100,"capacity":1.0773},{"run":"r26","type":"measured","cycle":150,"capacity":1.0755},{"run":"r26","type":"measured","cycle":200,"capacity":1.0732},{"run":"r26","type":"measured","cycle":250,"capacity":1.0708},{"run":"r26","type":"measured","cycle":300,"capacity":1.068},{"run":"r26","type":"measured","cycle":340,"capacity":1.065},{"run":"r26","type":"measured","cycle":370,"capacity":1.061},{"run":"r26","type":"measured","cycle":390,"capacity":1.0565},{"run":"r26","type":"measured","cycle":410,"capacity":1.05},{"run":"r26","type":"measured","cycle":430,"capacity":1.043},{"run":"r26","type":"measured","cycle":445,"capacity":1.0345},{"run":"r26","type":"measured","cycle":460,"capacity":1.026},{"run":"r26","type":"measured","cycle":470,"capacity":1.015},
      {"run":"r27","type":"predicted","cycle":0,"capacity":1.087},{"run":"r27","type":"predicted","cycle":200,"capacity":1.079},{"run":"r27","type":"predicted","cycle":400,"capacity":1.07},{"run":"r27","type":"predicted","cycle":560,"capacity":1.06},{"run":"r27","type":"predicted","cycle":660,"capacity":1.047},{"run":"r27","type":"predicted","cycle":740,"capacity":1.032},{"run":"r27","type":"predicted","cycle":799,"capacity":1.0162},
      {"run":"r28","type":"measured","cycle":0,"capacity":1.086},{"run":"r28","type":"measured","cycle":50,"capacity":1.0842},{"run":"r28","type":"measured","cycle":100,"capacity":1.0822},{"run":"r28","type":"measured","cycle":150,"capacity":1.0802},{"run":"r28","type":"measured","cycle":200,"capacity":1.078},{"run":"r28","type":"measured","cycle":250,"capacity":1.0758},{"run":"r28","type":"measured","cycle":300,"capacity":1.0735},{"run":"r28","type":"measured","cycle":350,"capacity":1.0708},{"run":"r28","type":"measured","cycle":400,"capacity":1.068},{"run":"r28","type":"measured","cycle":460,"capacity":1.064},{"run":"r28","type":"measured","cycle":520,"capacity":1.059},{"run":"r28","type":"measured","cycle":570,"capacity":1.053},{"run":"r28","type":"measured","cycle":610,"capacity":1.0462},{"run":"r28","type":"measured","cycle":640,"capacity":1.04},{"run":"r28","type":"measured","cycle":670,"capacity":1.032},{"run":"r28","type":"measured","cycle":690,"capacity":1.0255},{"run":"r28","type":"measured","cycle":710,"capacity":1.018},{"run":"r28","type":"measured","cycle":725,"capacity":1.01},{"run":"r28","type":"measured","cycle":740,"capacity":0.9997},
      {"run":"r29","type":"measured","cycle":0,"capacity":1.085},{"run":"r29","type":"measured","cycle":50,"capacity":1.0832},{"run":"r29","type":"measured","cycle":100,"capacity":1.0815},{"run":"r29","type":"measured","cycle":150,"capacity":1.0795},{"run":"r29","type":"measured","cycle":200,"capacity":1.077},{"run":"r29","type":"measured","cycle":250,"capacity":1.0745},{"run":"r29","type":"measured","cycle":300,"capacity":1.0715},{"run":"r29","type":"measured","cycle":350,"capacity":1.068},{"run":"r29","type":"measured","cycle":400,"capacity":1.064},{"run":"r29","type":"measured","cycle":430,"capacity":1.06},{"run":"r29","type":"measured","cycle":460,"capacity":1.055},{"run":"r29","type":"measured","cycle":480,"capacity":1.05},{"run":"r29","type":"measured","cycle":500,"capacity":1.044},{"run":"r29","type":"measured","cycle":520,"capacity":1.037},{"run":"r29","type":"measured","cycle":540,"capacity":1.028},{"run":"r29","type":"measured","cycle":555,"capacity":1.021},{"run":"r29","type":"measured","cycle":570,"capacity":1.012},
      {"run":"r30","type":"measured","cycle":0,"capacity":1.088},{"run":"r30","type":"measured","cycle":50,"capacity":1.0862},{"run":"r30","type":"measured","cycle":100,"capacity":1.0845},{"run":"r30","type":"measured","cycle":150,"capacity":1.0825},{"run":"r30","type":"measured","cycle":200,"capacity":1.0802},{"run":"r30","type":"measured","cycle":250,"capacity":1.0782},{"run":"r30","type":"measured","cycle":300,"capacity":1.076},{"run":"r30","type":"measured","cycle":360,"capacity":1.0722},{"run":"r30","type":"measured","cycle":420,"capacity":1.068},{"run":"r30","type":"measured","cycle":460,"capacity":1.064},{"run":"r30","type":"measured","cycle":500,"capacity":1.059},{"run":"r30","type":"measured","cycle":530,"capacity":1.054},{"run":"r30","type":"measured","cycle":560,"capacity":1.0462},{"run":"r30","type":"measured","cycle":580,"capacity":1.04},{"run":"r30","type":"measured","cycle":600,"capacity":1.033},{"run":"r30","type":"measured","cycle":615,"capacity":1.026},{"run":"r30","type":"measured","cycle":630,"capacity":1.016},
      {"run":"r31","type":"predicted","cycle":0,"capacity":1.085},{"run":"r31","type":"predicted","cycle":200,"capacity":1.077},{"run":"r31","type":"predicted","cycle":400,"capacity":1.065},{"run":"r31","type":"predicted","cycle":500,"capacity":1.052},{"run":"r31","type":"predicted","cycle":540,"capacity":1.042},{"run":"r31","type":"predicted","cycle":571,"capacity":1.025},
      {"run":"r32","type":"measured","cycle":0,"capacity":1.088},{"run":"r32","type":"measured","cycle":50,"capacity":1.0862},{"run":"r32","type":"measured","cycle":100,"capacity":1.0842},{"run":"r32","type":"measured","cycle":150,"capacity":1.0822},{"run":"r32","type":"measured","cycle":200,"capacity":1.08},{"run":"r32","type":"measured","cycle":250,"capacity":1.0778},{"run":"r32","type":"measured","cycle":300,"capacity":1.075},{"run":"r32","type":"measured","cycle":350,"capacity":1.0718},{"run":"r32","type":"measured","cycle":400,"capacity":1.068},{"run":"r32","type":"measured","cycle":440,"capacity":1.064},{"run":"r32","type":"measured","cycle":480,"capacity":1.059},{"run":"r32","type":"measured","cycle":510,"capacity":1.054},{"run":"r32","type":"measured","cycle":540,"capacity":1.047},{"run":"r32","type":"measured","cycle":560,"capacity":1.041},{"run":"r32","type":"measured","cycle":580,"capacity":1.033},{"run":"r32","type":"measured","cycle":600,"capacity":1.022},
      {"run":"r33","type":"measured","cycle":0,"capacity":1.079},{"run":"r33","type":"measured","cycle":50,"capacity":1.0775},{"run":"r33","type":"measured","cycle":100,"capacity":1.0758},{"run":"r33","type":"measured","cycle":150,"capacity":1.0738},{"run":"r33","type":"measured","cycle":200,"capacity":1.0712},{"run":"r33","type":"measured","cycle":250,"capacity":1.0688},{"run":"r33","type":"measured","cycle":300,"capacity":1.0665},{"run":"r33","type":"measured","cycle":350,"capacity":1.0642},{"run":"r33","type":"measured","cycle":400,"capacity":1.0608},{"run":"r33","type":"measured","cycle":450,"capacity":1.057},{"run":"r33","type":"measured","cycle":490,"capacity":1.0525},{"run":"r33","type":"measured","cycle":520,"capacity":1.0478},{"run":"r33","type":"measured","cycle":545,"capacity":1.042},{"run":"r33","type":"measured","cycle":570,"capacity":1.036},{"run":"r33","type":"measured","cycle":590,"capacity":1.028},{"run":"r33","type":"measured","cycle":610,"capacity":1.018},
      {"run":"r34","type":"predicted","cycle":0,"capacity":1.082},{"run":"r34","type":"predicted","cycle":200,"capacity":1.075},{"run":"r34","type":"predicted","cycle":400,"capacity":1.066},{"run":"r34","type":"predicted","cycle":550,"capacity":1.056},{"run":"r34","type":"predicted","cycle":650,"capacity":1.04},{"run":"r34","type":"predicted","cycle":720,"capacity":1.024},{"run":"r34","type":"predicted","cycle":776,"capacity":1.0048},
      {"run":"r35","type":"predicted","cycle":0,"capacity":1.076},{"run":"r35","type":"predicted","cycle":150,"capacity":1.07},{"run":"r35","type":"predicted","cycle":290,"capacity":1.061},{"run":"r35","type":"predicted","cycle":340,"capacity":1.052},{"run":"r35","type":"predicted","cycle":400,"capacity":1.034},{"run":"r35","type":"predicted","cycle":453,"capacity":1.014},
      {"run":"r36","type":"measured","cycle":0,"capacity":1.078},{"run":"r36","type":"measured","cycle":50,"capacity":1.0765},{"run":"r36","type":"measured","cycle":100,"capacity":1.0745},{"run":"r36","type":"measured","cycle":150,"capacity":1.0722},{"run":"r36","type":"measured","cycle":200,"capacity":1.07},{"run":"r36","type":"measured","cycle":250,"capacity":1.0678},{"run":"r36","type":"measured","cycle":300,"capacity":1.065},{"run":"r36","type":"measured","cycle":350,"capacity":1.0622},{"run":"r36","type":"measured","cycle":400,"capacity":1.0585},{"run":"r36","type":"measured","cycle":450,"capacity":1.054},{"run":"r36","type":"measured","cycle":490,"capacity":1.049},{"run":"r36","type":"measured","cycle":520,"capacity":1.044},{"run":"r36","type":"measured","cycle":550,"capacity":1.038},{"run":"r36","type":"measured","cycle":570,"capacity":1.0305},{"run":"r36","type":"measured","cycle":590,"capacity":1.022},{"run":"r36","type":"measured","cycle":610,"capacity":1.012},
      {"run":"r37","type":"measured","cycle":0,"capacity":1.079},{"run":"r37","type":"measured","cycle":50,"capacity":1.0775},{"run":"r37","type":"measured","cycle":100,"capacity":1.0758},{"run":"r37","type":"measured","cycle":150,"capacity":1.074},{"run":"r37","type":"measured","cycle":200,"capacity":1.0718},{"run":"r37","type":"measured","cycle":250,"capacity":1.0695},{"run":"r37","type":"measured","cycle":300,"capacity":1.067},{"run":"r37","type":"measured","cycle":330,"capacity":1.0658},{"run":"r37","type":"measured","cycle":360,"capacity":1.064},{"run":"r37","type":"measured","cycle":400,"capacity":1.0618},{"run":"r37","type":"measured","cycle":430,"capacity":1.0585},{"run":"r37","type":"measured","cycle":460,"capacity":1.054},{"run":"r37","type":"measured","cycle":490,"capacity":1.047},{"run":"r37","type":"measured","cycle":510,"capacity":1.041},{"run":"r37","type":"measured","cycle":530,"capacity":1.033},{"run":"r37","type":"measured","cycle":550,"capacity":1.024},
      {"run":"r38","type":"predicted","cycle":0,"capacity":1.085},{"run":"r38","type":"predicted","cycle":200,"capacity":1.0775},{"run":"r38","type":"predicted","cycle":400,"capacity":1.0685},{"run":"r38","type":"predicted","cycle":560,"capacity":1.058},{"run":"r38","type":"predicted","cycle":660,"capacity":1.044},{"run":"r38","type":"predicted","cycle":730,"capacity":1.028},{"run":"r38","type":"predicted","cycle":780,"capacity":1.011},
      {"run":"r39","type":"predicted","cycle":0,"capacity":1.082},{"run":"r39","type":"predicted","cycle":200,"capacity":1.074},{"run":"r39","type":"predicted","cycle":350,"capacity":1.066},{"run":"r39","type":"predicted","cycle":430,"capacity":1.056},{"run":"r39","type":"predicted","cycle":480,"capacity":1.04},{"run":"r39","type":"predicted","cycle":520,"capacity":1.02},
      {"run":"r40","type":"predicted","cycle":0,"capacity":1.0688},{"run":"r40","type":"predicted","cycle":150,"capacity":1.0635},{"run":"r40","type":"predicted","cycle":300,"capacity":1.0565},{"run":"r40","type":"predicted","cycle":380,"capacity":1.05},{"run":"r40","type":"predicted","cycle":440,"capacity":1.038},{"run":"r40","type":"predicted","cycle":490,"capacity":1.022},
      {"run":"r41","type":"measured","cycle":0,"capacity":1.0835},{"run":"r41","type":"measured","cycle":50,"capacity":1.0818},{"run":"r41","type":"measured","cycle":100,"capacity":1.0798},{"run":"r41","type":"measured","cycle":150,"capacity":1.078},{"run":"r41","type":"measured","cycle":200,"capacity":1.0755},{"run":"r41","type":"measured","cycle":250,"capacity":1.073},{"run":"r41","type":"measured","cycle":300,"capacity":1.0705},{"run":"r41","type":"measured","cycle":340,"capacity":1.0675},{"run":"r41","type":"measured","cycle":380,"capacity":1.064},{"run":"r41","type":"measured","cycle":410,"capacity":1.0592},{"run":"r41","type":"measured","cycle":430,"capacity":1.054},{"run":"r41","type":"measured","cycle":450,"capacity":1.0475},{"run":"r41","type":"measured","cycle":470,"capacity":1.0385},{"run":"r41","type":"measured","cycle":485,"capacity":1.03},{"run":"r41","type":"measured","cycle":500,"capacity":1.018},
      {"run":"r42","type":"measured","cycle":0,"capacity":1.086},{"run":"r42","type":"measured","cycle":50,"capacity":1.0842},{"run":"r42","type":"measured","cycle":100,"capacity":1.0822},{"run":"r42","type":"measured","cycle":150,"capacity":1.0802},{"run":"r42","type":"measured","cycle":200,"capacity":1.078},{"run":"r42","type":"measured","cycle":250,"capacity":1.0758},{"run":"r42","type":"measured","cycle":300,"capacity":1.0733},{"run":"r42","type":"measured","cycle":350,"capacity":1.0708},{"run":"r42","type":"measured","cycle":400,"capacity":1.068},{"run":"r42","type":"measured","cycle":460,"capacity":1.0635},{"run":"r42","type":"measured","cycle":530,"capacity":1.058},{"run":"r42","type":"measured","cycle":580,"capacity":1.0528},{"run":"r42","type":"measured","cycle":620,"capacity":1.047},{"run":"r42","type":"measured","cycle":650,"capacity":1.041},{"run":"r42","type":"measured","cycle":680,"capacity":1.034},{"run":"r42","type":"measured","cycle":700,"capacity":1.027},{"run":"r42","type":"measured","cycle":712,"capacity":1.0215},{"run":"r42","type":"measured","cycle":716,"capacity":1.026},{"run":"r42","type":"measured","cycle":722,"capacity":1.0215},{"run":"r42","type":"measured","cycle":740,"capacity":1.015},{"run":"r42","type":"measured","cycle":755,"capacity":1.009},{"run":"r42","type":"measured","cycle":772,"capacity":1.0015},
      {"run":"r43","type":"predicted","cycle":0,"capacity":1.084},{"run":"r43","type":"predicted","cycle":200,"capacity":1.076},{"run":"r43","type":"predicted","cycle":350,"capacity":1.067},{"run":"r43","type":"predicted","cycle":430,"capacity":1.056},{"run":"r43","type":"predicted","cycle":490,"capacity":1.038},{"run":"r43","type":"predicted","cycle":530,"capacity":1.02},
      {"run":"r44","type":"predicted","cycle":0,"capacity":1.07},{"run":"r44","type":"predicted","cycle":150,"capacity":1.065},{"run":"r44","type":"predicted","cycle":280,"capacity":1.058},{"run":"r44","type":"predicted","cycle":350,"capacity":1.05},{"run":"r44","type":"predicted","cycle":400,"capacity":1.036},{"run":"r44","type":"predicted","cycle":440,"capacity":1.014},
      {"run":"r45","type":"predicted","cycle":0,"capacity":1.08},{"run":"r45","type":"predicted","cycle":200,"capacity":1.071},{"run":"r45","type":"predicted","cycle":350,"capacity":1.062},{"run":"r45","type":"predicted","cycle":420,"capacity":1.05},{"run":"r45","type":"predicted","cycle":470,"capacity":1.03},{"run":"r45","type":"predicted","cycle":490,"capacity":1.018},
      {"run":"r46","type":"measured","cycle":0,"capacity":1.085},{"run":"r46","type":"measured","cycle":50,"capacity":1.0832},{"run":"r46","type":"measured","cycle":100,"capacity":1.0812},{"run":"r46","type":"measured","cycle":150,"capacity":1.0792},{"run":"r46","type":"measured","cycle":200,"capacity":1.077},{"run":"r46","type":"measured","cycle":250,"capacity":1.0745},{"run":"r46","type":"measured","cycle":300,"capacity":1.0718},{"run":"r46","type":"measured","cycle":350,"capacity":1.069},{"run":"r46","type":"measured","cycle":400,"capacity":1.064},{"run":"r46","type":"measured","cycle":430,"capacity":1.06},{"run":"r46","type":"measured","cycle":460,"capacity":1.0548},{"run":"r46","type":"measured","cycle":490,"capacity":1.0475},{"run":"r46","type":"measured","cycle":510,"capacity":1.04},{"run":"r46","type":"measured","cycle":525,"capacity":1.032},{"run":"r46","type":"measured","cycle":540,"capacity":1.02},
      {"run":"r47","type":"measured","cycle":0,"capacity":1.0765},{"run":"r47","type":"measured","cycle":50,"capacity":1.0748},{"run":"r47","type":"measured","cycle":100,"capacity":1.0732},{"run":"r47","type":"measured","cycle":150,"capacity":1.0714},{"run":"r47","type":"measured","cycle":200,"capacity":1.0692},{"run":"r47","type":"measured","cycle":250,"capacity":1.0668},{"run":"r47","type":"measured","cycle":280,"capacity":1.065},{"run":"r47","type":"measured","cycle":320,"capacity":1.0622},{"run":"r47","type":"measured","cycle":350,"capacity":1.0585},{"run":"r47","type":"measured","cycle":375,"capacity":1.053},{"run":"r47","type":"measured","cycle":400,"capacity":1.0462},{"run":"r47","type":"measured","cycle":420,"capacity":1.0395},{"run":"r47","type":"measured","cycle":440,"capacity":1.031},{"run":"r47","type":"measured","cycle":455,"capacity":1.023},{"run":"r47","type":"measured","cycle":470,"capacity":1.014},
      {"run":"r48","type":"measured","cycle":0,"capacity":1.088},{"run":"r48","type":"measured","cycle":50,"capacity":1.0865},{"run":"r48","type":"measured","cycle":100,"capacity":1.0845},{"run":"r48","type":"measured","cycle":150,"capacity":1.0828},{"run":"r48","type":"measured","cycle":200,"capacity":1.0808},{"run":"r48","type":"measured","cycle":250,"capacity":1.0786},{"run":"r48","type":"measured","cycle":300,"capacity":1.0758},{"run":"r48","type":"measured","cycle":330,"capacity":1.0742},{"run":"r48","type":"measured","cycle":380,"capacity":1.0705},{"run":"r48","type":"measured","cycle":430,"capacity":1.0662},{"run":"r48","type":"measured","cycle":470,"capacity":1.0615},{"run":"r48","type":"measured","cycle":500,"capacity":1.0562},{"run":"r48","type":"measured","cycle":530,"capacity":1.05},{"run":"r48","type":"measured","cycle":550,"capacity":1.0445},{"run":"r48","type":"measured","cycle":570,"capacity":1.0375},{"run":"r48","type":"measured","cycle":590,"capacity":1.0285},{"run":"r48","type":"measured","cycle":605,"capacity":1.021},{"run":"r48","type":"measured","cycle":615,"capacity":1.014},
      {"run":"r49","type":"measured","cycle":0,"capacity":1.079},{"run":"r49","type":"measured","cycle":50,"capacity":1.077},{"run":"r49","type":"measured","cycle":100,"capacity":1.0752},{"run":"r49","type":"measured","cycle":150,"capacity":1.0732},{"run":"r49","type":"measured","cycle":200,"capacity":1.071},{"run":"r49","type":"measured","cycle":250,"capacity":1.0685},{"run":"r49","type":"measured","cycle":300,"capacity":1.066},{"run":"r49","type":"measured","cycle":350,"capacity":1.063},{"run":"r49","type":"measured","cycle":400,"capacity":1.0598},{"run":"r49","type":"measured","cycle":440,"capacity":1.056},{"run":"r49","type":"measured","cycle":470,"capacity":1.0505},{"run":"r49","type":"measured","cycle":500,"capacity":1.044},{"run":"r49","type":"measured","cycle":520,"capacity":1.037},{"run":"r49","type":"measured","cycle":540,"capacity":1.029},{"run":"r49","type":"measured","cycle":560,"capacity":1.02},
      {"run":"r50","type":"measured","cycle":0,"capacity":1.082},{"run":"r50","type":"measured","cycle":50,"capacity":1.08},{"run":"r50","type":"measured","cycle":100,"capacity":1.0782},{"run":"r50","type":"measured","cycle":150,"capacity":1.0762},{"run":"r50","type":"measured","cycle":200,"capacity":1.0738},{"run":"r50","type":"measured","cycle":250,"capacity":1.0715},{"run":"r50","type":"measured","cycle":300,"capacity":1.0688},{"run":"r50","type":"measured","cycle":330,"capacity":1.0665},{"run":"r50","type":"measured","cycle":360,"capacity":1.063},{"run":"r50","type":"measured","cycle":380,"capacity":1.0595},{"run":"r50","type":"measured","cycle":400,"capacity":1.055},{"run":"r50","type":"measured","cycle":420,"capacity":1.048},{"run":"r50","type":"measured","cycle":440,"capacity":1.04},{"run":"r50","type":"measured","cycle":455,"capacity":1.032},{"run":"r50","type":"measured","cycle":470,"capacity":1.022},
      {"run":"r51","type":"predicted","cycle":0,"capacity":1.08},{"run":"r51","type":"predicted","cycle":200,"capacity":1.072},{"run":"r51","type":"predicted","cycle":350,"capacity":1.063},{"run":"r51","type":"predicted","cycle":420,"capacity":1.052},{"run":"r51","type":"predicted","cycle":470,"capacity":1.036},{"run":"r51","type":"predicted","cycle":500,"capacity":1.022},
      {"run":"r52","type":"predicted","cycle":0,"capacity":1.088},{"run":"r52","type":"predicted","cycle":200,"capacity":1.08},{"run":"r52","type":"predicted","cycle":380,"capacity":1.07},{"run":"r52","type":"predicted","cycle":450,"capacity":1.058},{"run":"r52","type":"predicted","cycle":500,"capacity":1.04},{"run":"r52","type":"predicted","cycle":540,"capacity":1.02},
      {"run":"r53","type":"measured","cycle":0,"capacity":1.0775},{"run":"r53","type":"measured","cycle":50,"capacity":1.0758},{"run":"r53","type":"measured","cycle":100,"capacity":1.074},{"run":"r53","type":"measured","cycle":150,"capacity":1.072},{"run":"r53","type":"measured","cycle":200,"capacity":1.0698},{"run":"r53","type":"measured","cycle":250,"capacity":1.0674},{"run":"r53","type":"measured","cycle":300,"capacity":1.0648},{"run":"r53","type":"measured","cycle":340,"capacity":1.062},{"run":"r53","type":"measured","cycle":370,"capacity":1.0585},{"run":"r53","type":"measured","cycle":395,"capacity":1.0535},{"run":"r53","type":"measured","cycle":420,"capacity":1.047},{"run":"r53","type":"measured","cycle":440,"capacity":1.04},{"run":"r53","type":"measured","cycle":455,"capacity":1.0338},{"run":"r53","type":"measured","cycle":470,"capacity":1.027},{"run":"r53","type":"measured","cycle":480,"capacity":1.022},
      {"run":"r54","type":"measured","cycle":0,"capacity":1.08},{"run":"r54","type":"measured","cycle":50,"capacity":1.0785},{"run":"r54","type":"measured","cycle":100,"capacity":1.0765},{"run":"r54","type":"measured","cycle":150,"capacity":1.0745},{"run":"r54","type":"measured","cycle":200,"capacity":1.0722},{"run":"r54","type":"measured","cycle":250,"capacity":1.0698},{"run":"r54","type":"measured","cycle":300,"capacity":1.067},{"run":"r54","type":"measured","cycle":340,"capacity":1.064},{"run":"r54","type":"measured","cycle":380,"capacity":1.06},{"run":"r54","type":"measured","cycle":405,"capacity":1.055},{"run":"r54","type":"measured","cycle":430,"capacity":1.049},{"run":"r54","type":"measured","cycle":450,"capacity":1.043},{"run":"r54","type":"measured","cycle":470,"capacity":1.0345},{"run":"r54","type":"measured","cycle":485,"capacity":1.027},{"run":"r54","type":"measured","cycle":500,"capacity":1.019},
      {"run":"r55","type":"predicted","cycle":0,"capacity":1.0765},{"run":"r55","type":"predicted","cycle":200,"capacity":1.069},{"run":"r55","type":"predicted","cycle":300,"capacity":1.063},{"run":"r55","type":"predicted","cycle":370,"capacity":1.054},{"run":"r55","type":"predicted","cycle":420,"capacity":1.04},{"run":"r55","type":"predicted","cycle":460,"capacity":1.022},
      {"run":"r56","type":"predicted","cycle":0,"capacity":1.079},{"run":"r56","type":"predicted","cycle":200,"capacity":1.071},{"run":"r56","type":"predicted","cycle":330,"capacity":1.063},{"run":"r56","type":"predicted","cycle":400,"capacity":1.053},{"run":"r56","type":"predicted","cycle":450,"capacity":1.038},{"run":"r56","type":"predicted","cycle":490,"capacity":1.018},
      {"run":"r57","type":"predicted","cycle":0,"capacity":1.081},{"run":"r57","type":"predicted","cycle":200,"capacity":1.073},{"run":"r57","type":"predicted","cycle":350,"capacity":1.065},{"run":"r57","type":"predicted","cycle":430,"capacity":1.055},{"run":"r57","type":"predicted","cycle":490,"capacity":1.038},{"run":"r57","type":"predicted","cycle":530,"capacity":1.018},
      {"run":"r58","type":"measured","cycle":0,"capacity":1.0835},{"run":"r58","type":"measured","cycle":50,"capacity":1.0818},{"run":"r58","type":"measured","cycle":100,"capacity":1.08},{"run":"r58","type":"measured","cycle":150,"capacity":1.0778},{"run":"r58","type":"measured","cycle":200,"capacity":1.0755},{"run":"r58","type":"measured","cycle":250,"capacity":1.073},{"run":"r58","type":"measured","cycle":300,"capacity":1.0702},{"run":"r58","type":"measured","cycle":350,"capacity":1.0672},{"run":"r58","type":"measured","cycle":400,"capacity":1.063},{"run":"r58","type":"measured","cycle":440,"capacity":1.0582},{"run":"r58","type":"measured","cycle":470,"capacity":1.053},{"run":"r58","type":"measured","cycle":500,"capacity":1.046},{"run":"r58","type":"measured","cycle":520,"capacity":1.0395},{"run":"r58","type":"measured","cycle":540,"capacity":1.03},{"run":"r58","type":"measured","cycle":560,"capacity":1.017},
      {"run":"r59","type":"measured","cycle":0,"capacity":1.087},{"run":"r59","type":"measured","cycle":50,"capacity":1.0852},{"run":"r59","type":"measured","cycle":100,"capacity":1.0833},{"run":"r59","type":"measured","cycle":150,"capacity":1.0812},{"run":"r59","type":"measured","cycle":200,"capacity":1.079},{"run":"r59","type":"measured","cycle":250,"capacity":1.0768},{"run":"r59","type":"measured","cycle":300,"capacity":1.0742},{"run":"r59","type":"measured","cycle":350,"capacity":1.0715},{"run":"r59","type":"measured","cycle":380,"capacity":1.07},{"run":"r59","type":"measured","cycle":430,"capacity":1.066},{"run":"r59","type":"measured","cycle":470,"capacity":1.062},{"run":"r59","type":"measured","cycle":500,"capacity":1.058},{"run":"r59","type":"measured","cycle":530,"capacity":1.051},{"run":"r59","type":"measured","cycle":555,"capacity":1.044},{"run":"r59","type":"measured","cycle":580,"capacity":1.036},{"run":"r59","type":"measured","cycle":600,"capacity":1.0275},{"run":"r59","type":"measured","cycle":620,"capacity":1.018},
      {"run":"r60","type":"predicted","cycle":0,"capacity":1.086},{"run":"r60","type":"predicted","cycle":200,"capacity":1.078},{"run":"r60","type":"predicted","cycle":350,"capacity":1.069},{"run":"r60","type":"predicted","cycle":430,"capacity":1.058},{"run":"r60","type":"predicted","cycle":480,"capacity":1.042},{"run":"r60","type":"predicted","cycle":520,"capacity":1.024},
      {"run":"r61","type":"measured","cycle":0,"capacity":1.0805},{"run":"r61","type":"measured","cycle":50,"capacity":1.0788},{"run":"r61","type":"measured","cycle":100,"capacity":1.077},{"run":"r61","type":"measured","cycle":150,"capacity":1.075},{"run":"r61","type":"measured","cycle":200,"capacity":1.0728},{"run":"r61","type":"measured","cycle":250,"capacity":1.0705},{"run":"r61","type":"measured","cycle":300,"capacity":1.068},{"run":"r61","type":"measured","cycle":350,"capacity":1.0648},{"run":"r61","type":"measured","cycle":400,"capacity":1.061},{"run":"r61","type":"measured","cycle":430,"capacity":1.0575},{"run":"r61","type":"measured","cycle":460,"capacity":1.053},{"run":"r61","type":"measured","cycle":490,"capacity":1.0465},{"run":"r61","type":"measured","cycle":510,"capacity":1.04},{"run":"r61","type":"measured","cycle":530,"capacity":1.033},{"run":"r61","type":"measured","cycle":545,"capacity":1.027},{"run":"r61","type":"measured","cycle":560,"capacity":1.021},
      {"run":"r62","type":"measured","cycle":0,"capacity":1.083},{"run":"r62","type":"measured","cycle":50,"capacity":1.0812},{"run":"r62","type":"measured","cycle":100,"capacity":1.0792},{"run":"r62","type":"measured","cycle":150,"capacity":1.077},{"run":"r62","type":"measured","cycle":200,"capacity":1.0748},{"run":"r62","type":"measured","cycle":250,"capacity":1.0722},{"run":"r62","type":"measured","cycle":300,"capacity":1.0692},{"run":"r62","type":"measured","cycle":330,"capacity":1.0665},{"run":"r62","type":"measured","cycle":360,"capacity":1.062},{"run":"r62","type":"measured","cycle":385,"capacity":1.0565},{"run":"r62","type":"measured","cycle":410,"capacity":1.05},{"run":"r62","type":"measured","cycle":430,"capacity":1.043},{"run":"r62","type":"measured","cycle":450,"capacity":1.034},{"run":"r62","type":"measured","cycle":465,"capacity":1.027},{"run":"r62","type":"measured","cycle":480,"capacity":1.02},
      {"run":"r63","type":"predicted","cycle":0,"capacity":1.087},{"run":"r63","type":"predicted","cycle":200,"capacity":1.079},{"run":"r63","type":"predicted","cycle":400,"capacity":1.068},{"run":"r63","type":"predicted","cycle":500,"capacity":1.055},{"run":"r63","type":"predicted","cycle":560,"capacity":1.036},{"run":"r63","type":"predicted","cycle":600,"capacity":1.018},
      {"run":"r64","type":"measured","cycle":0,"capacity":1.0865},{"run":"r64","type":"measured","cycle":50,"capacity":1.0848},{"run":"r64","type":"measured","cycle":100,"capacity":1.0828},{"run":"r64","type":"measured","cycle":150,"capacity":1.0806},{"run":"r64","type":"measured","cycle":200,"capacity":1.0782},{"run":"r64","type":"measured","cycle":250,"capacity":1.0758},{"run":"r64","type":"measured","cycle":300,"capacity":1.073},{"run":"r64","type":"measured","cycle":350,"capacity":1.0702},{"run":"r64","type":"measured","cycle":400,"capacity":1.0668},{"run":"r64","type":"measured","cycle":440,"capacity":1.0622},{"run":"r64","type":"measured","cycle":470,"capacity":1.0575},{"run":"r64","type":"measured","cycle":500,"capacity":1.052},{"run":"r64","type":"measured","cycle":525,"capacity":1.046},{"run":"r64","type":"measured","cycle":550,"capacity":1.0385},{"run":"r64","type":"measured","cycle":570,"capacity":1.031},{"run":"r64","type":"measured","cycle":590,"capacity":1.022},
      {"run":"r65","type":"measured","cycle":0,"capacity":1.079},{"run":"r65","type":"measured","cycle":50,"capacity":1.0772},{"run":"r65","type":"measured","cycle":100,"capacity":1.0752},{"run":"r65","type":"measured","cycle":150,"capacity":1.0732},{"run":"r65","type":"measured","cycle":200,"capacity":1.071},{"run":"r65","type":"measured","cycle":250,"capacity":1.0688},{"run":"r65","type":"measured","cycle":300,"capacity":1.0662},{"run":"r65","type":"measured","cycle":330,"capacity":1.0642},{"run":"r65","type":"measured","cycle":370,"capacity":1.06},{"run":"r65","type":"measured","cycle":400,"capacity":1.056},{"run":"r65","type":"measured","cycle":425,"capacity":1.051},{"run":"r65","type":"measured","cycle":450,"capacity":1.045},{"run":"r65","type":"measured","cycle":470,"capacity":1.0385},{"run":"r65","type":"measured","cycle":490,"capacity":1.03},{"run":"r65","type":"measured","cycle":505,"capacity":1.023},{"run":"r65","type":"measured","cycle":520,"capacity":1.015},
      {"run":"r66","type":"measured","cycle":0,"capacity":1.087},{"run":"r66","type":"measured","cycle":50,"capacity":1.0852},{"run":"r66","type":"measured","cycle":100,"capacity":1.0832},{"run":"r66","type":"measured","cycle":150,"capacity":1.0812},{"run":"r66","type":"measured","cycle":200,"capacity":1.079},{"run":"r66","type":"measured","cycle":250,"capacity":1.0765},{"run":"r66","type":"measured","cycle":300,"capacity":1.0738},{"run":"r66","type":"measured","cycle":350,"capacity":1.0708},{"run":"r66","type":"measured","cycle":380,"capacity":1.069},{"run":"r66","type":"measured","cycle":420,"capacity":1.065},{"run":"r66","type":"measured","cycle":470,"capacity":1.0608},{"run":"r66","type":"measured","cycle":500,"capacity":1.0565},{"run":"r66","type":"measured","cycle":530,"capacity":1.05},{"run":"r66","type":"measured","cycle":555,"capacity":1.043},{"run":"r66","type":"measured","cycle":575,"capacity":1.0355},{"run":"r66","type":"measured","cycle":590,"capacity":1.0285},{"run":"r66","type":"measured","cycle":600,"capacity":1.02},
      {"run":"r67","type":"measured","cycle":0,"capacity":1.074},{"run":"r67","type":"measured","cycle":50,"capacity":1.0725},{"run":"r67","type":"measured","cycle":100,"capacity":1.0708},{"run":"r67","type":"measured","cycle":150,"capacity":1.069},{"run":"r67","type":"measured","cycle":200,"capacity":1.0668},{"run":"r67","type":"measured","cycle":250,"capacity":1.0645},{"run":"r67","type":"measured","cycle":300,"capacity":1.062},{"run":"r67","type":"measured","cycle":330,"capacity":1.0598},{"run":"r67","type":"measured","cycle":360,"capacity":1.055},{"run":"r67","type":"measured","cycle":385,"capacity":1.049},{"run":"r67","type":"measured","cycle":410,"capacity":1.043},{"run":"r67","type":"measured","cycle":430,"capacity":1.037},{"run":"r67","type":"measured","cycle":445,"capacity":1.03},{"run":"r67","type":"measured","cycle":460,"capacity":1.023},{"run":"r67","type":"measured","cycle":470,"capacity":1.016},
      {"run":"r68","type":"measured","cycle":0,"capacity":1.077},{"run":"r68","type":"measured","cycle":50,"capacity":1.0752},{"run":"r68","type":"measured","cycle":100,"capacity":1.0735},{"run":"r68","type":"measured","cycle":150,"capacity":1.0716},{"run":"r68","type":"measured","cycle":200,"capacity":1.0692},{"run":"r68","type":"measured","cycle":250,"capacity":1.0668},{"run":"r68","type":"measured","cycle":300,"capacity":1.0642},{"run":"r68","type":"measured","cycle":340,"capacity":1.062},{"run":"r68","type":"measured","cycle":380,"capacity":1.0585},{"run":"r68","type":"measured","cycle":420,"capacity":1.054},{"run":"r68","type":"measured","cycle":450,"capacity":1.049},{"run":"r68","type":"measured","cycle":470,"capacity":1.043},{"run":"r68","type":"measured","cycle":490,"capacity":1.0365},{"run":"r68","type":"measured","cycle":510,"capacity":1.028},{"run":"r68","type":"measured","cycle":525,"capacity":1.021},{"run":"r68","type":"measured","cycle":540,"capacity":1.012},
      {"run":"r69","type":"predicted","cycle":0,"capacity":1.08},{"run":"r69","type":"predicted","cycle":200,"capacity":1.072},{"run":"r69","type":"predicted","cycle":340,"capacity":1.064},{"run":"r69","type":"predicted","cycle":420,"capacity":1.053},{"run":"r69","type":"predicted","cycle":470,"capacity":1.036},{"run":"r69","type":"predicted","cycle":505,"capacity":1.018}
    ]
  },
  "mark": {"type": "line", "strokeWidth": 1.4, "clip": true},
  "encoding": {
    "x": {
      "field": "cycle",
      "type": "quantitative",
      "title": "Cycle number",
      "scale": {"domain": [-67.4, 1414.4], "nice": false, "zero": false},
      "axis": {"values": [0, 200, 400, 600, 800, 1000, 1200, 1400], "format": "d"}
    },
    "y": {
      "field": "capacity",
      "type": "quantitative",
      "title": "Capacity [A.h]",
      "scale": {"domain": [0.9842, 1.1038], "nice": false, "zero": false},
      "axis": {"values": [1.0, 1.02, 1.04, 1.06, 1.08, 1.1], "format": ".2f"}
    },
    "color": {
      "field": "run",
      "type": "nominal",
      "legend": null,
      "scale": {"range": ["#1f77b4", "#ff7f0e", "#2ca02c", "#d62728", "#9467bd", "#8c564b", "#e377c2", "#7f7f7f", "#bcbd22", "#17becf"]}
    },
    "strokeDash": {
      "field": "type",
      "type": "nominal",
      "legend": null,
      "scale": {"domain": ["measured", "predicted"], "range": [[1, 0], [5, 2.5]]}
    }
  },
  "config": {
    "font": "DejaVu Sans",
    "view": {"stroke": "#000000", "strokeWidth": 1},
    "axis": {
      "domain": false,
      "grid": false,
      "ticks": true,
      "tickColor": "#000000",
      "tickSize": 4,
      "tickWidth": 1,
      "labelFont": "DejaVu Sans",
      "labelFontSize": 11,
      "labelColor": "#000000",
      "labelPadding": 3,
      "titleFont": "DejaVu Sans",
      "titleFontSize": 11,
      "titleFontWeight": "normal",
      "titleColor": "#000000",
      "titlePadding": 4
    }
  }
}
